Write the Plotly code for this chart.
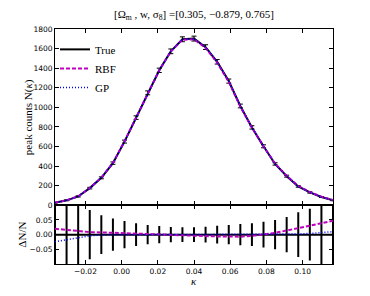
import plotly.graph_objects as go

# ---- data ----
kappa = [-0.0368, -0.0304, -0.0240, -0.0176, -0.0112, -0.0048, 0.0016, 0.0080,
         0.0144, 0.0208, 0.0272, 0.0336, 0.0400, 0.0464, 0.0528, 0.0592,
         0.0656, 0.0720, 0.0784, 0.0848, 0.0912, 0.0976, 0.1040, 0.1104, 0.1168]

n_true = [26, 50, 90, 175, 280, 430, 650, 895, 1148, 1378, 1572, 1695, 1702,
          1615, 1465, 1268, 1014, 795, 602, 422, 297, 192, 131, 84, 50]

n_true_err = [3, 4, 6, 8, 10, 12, 15, 18, 20, 22, 24, 25, 25, 24, 23, 21,
              19, 17, 15, 12, 10, 8, 7, 5, 4]

res_err = [0.20, 0.15, 0.12, 0.084, 0.066, 0.055, 0.046, 0.039, 0.033, 0.029,
           0.026, 0.025, 0.025, 0.027, 0.030, 0.033, 0.036, 0.039, 0.044,
           0.050, 0.060, 0.076, 0.088, 0.12, 0.20]

res_rbf = [0.020, 0.0155, 0.011, 0.0086, 0.0076, 0.006, 0.004, 0.003, 0.002,
           0.000, -0.001, -0.003, -0.004, -0.005, -0.006, -0.006, -0.007,
           -0.004, 0.000, 0.006, 0.014, 0.022, 0.029, 0.038, 0.047]

res_gp = [-0.024, -0.017, -0.010, -0.004, -0.001, 0.0, 0.0, 0.0, 0.0, 0.0,
          0.0, 0.0, 0.0, 0.0, 0.0, 0.0, 0.0, 0.0, 0.0, 0.0, 0.001, 0.002,
          0.004, 0.006, 0.010]

n_rbf = [n * (1 + r) for n, r in zip(n_true, res_rbf)]
n_gp = [n * (1 + r) for n, r in zip(n_true, res_gp)]
zeros = [0.0 for _ in kappa]

x_ticks = [-0.02, 0.00, 0.02, 0.04, 0.06, 0.08, 0.10]
x_tick_text = ["\u22120.02", "0.00", "0.02", "0.04", "0.06", "0.08", "0.10"]
y_ticks = [0, 200, 400, 600, 800, 1000, 1200, 1400, 1600, 1800]
r_ticks = [-0.05, 0.0, 0.05]
r_tick_text = ["\u22120.05", "0.00", "0.05"]

title_text = "[\u03a9<sub>m</sub> , w, \u03c3<sub>8</sub>] =[0.305, \u22120.879, 0.765]"

BLACK = "#000000"
MAG = "#bf00bf"
BLUE = "#0000ff"
SERIF = "Liberation Serif"
SANS = "DejaVu Sans"

fig = go.Figure()

# top panel
fig.add_trace(go.Scatter(x=kappa, y=n_true, mode="lines", name="True",
                         line=dict(color=BLACK, width=2),
                         error_y=dict(type="data", array=n_true_err, visible=True,
                                      color=BLACK, thickness=1, width=2.5),
                         xaxis="x", yaxis="y"))
fig.add_trace(go.Scatter(x=kappa, y=n_rbf, mode="lines", name="RBF",
                         line=dict(color=MAG, width=2, dash="4px,2px"),
                         xaxis="x", yaxis="y"))
fig.add_trace(go.Scatter(x=kappa, y=n_gp, mode="lines", name="GP",
                         line=dict(color=BLUE, width=1.5, dash="1px,2px"),
                         xaxis="x", yaxis="y"))

# bottom panel
fig.add_trace(go.Scatter(x=kappa, y=zeros, mode="lines", showlegend=False,
                         line=dict(color=BLACK, width=2),
                         error_y=dict(type="data", array=res_err, visible=True,
                                      color=BLACK, thickness=2, width=0),
                         xaxis="x2", yaxis="y2"))
fig.add_trace(go.Scatter(x=kappa, y=res_rbf, mode="lines", showlegend=False,
                         line=dict(color=MAG, width=2, dash="4px,2px"),
                         xaxis="x2", yaxis="y2"))
fig.add_trace(go.Scatter(x=kappa, y=res_gp, mode="lines", showlegend=False,
                         line=dict(color=BLUE, width=1.5, dash="1px,2px"),
                         xaxis="x2", yaxis="y2"))

axis_common = dict(showline=True, linecolor=BLACK, linewidth=1, mirror="ticks",
                   ticks="inside", ticklen=4, tickcolor=BLACK, tickwidth=1,
                   showgrid=False, zeroline=False,
                   tickfont=dict(family=SANS, size=7.5, color=BLACK))

xr = [kappa[0], kappa[-1]]

# the page body adds an 8px margin; the figure is sized so the plot area
# lands at the same window pixels as the reference
fig.update_layout(
    width=354, height=280,
    margin=dict(l=47, r=29, t=21, b=22),
    paper_bgcolor="white", plot_bgcolor="white",
    showlegend=True,
    legend=dict(x=0.0, y=0.975, xanchor="left", yanchor="top",
                bgcolor="rgba(0,0,0,0)", borderwidth=0,
                font=dict(family=SERIF, size=11, color=BLACK),
                tracegroupgap=0),
    xaxis=dict(domain=[0, 1], anchor="y", range=xr, tickvals=x_ticks,
               showticklabels=False, **axis_common),
    yaxis=dict(domain=[0.25, 1], anchor="x", range=[0, 1800], tickvals=y_ticks,
               **axis_common),
    xaxis2=dict(domain=[0, 1], anchor="y2", range=xr, tickvals=x_ticks,
                ticktext=x_tick_text, matches="x", **axis_common),
    yaxis2=dict(domain=[0, 0.25], anchor="x2", range=[-0.1, 0.1],
                tickvals=r_ticks, ticktext=r_tick_text, **axis_common),
    annotations=[
        dict(text=title_text, xref="paper", yref="paper", x=0.5, y=1.0,
             xanchor="center", yanchor="bottom", yshift=5, showarrow=False,
             font=dict(family=SERIF, size=11, color=BLACK)),
        dict(text="peak counts N(<i>\u03ba</i>)", xref="paper", yref="paper",
             x=0, y=0.625, xshift=-27, xanchor="center", yanchor="middle",
             textangle=-90, showarrow=False,
             font=dict(family=SERIF, size=11, color=BLACK)),
        dict(text="\u0394N/N", xref="paper", yref="paper",
             x=0, y=0.125, xshift=-33, xanchor="center", yanchor="middle",
             textangle=-90, showarrow=False,
             font=dict(family=SERIF, size=11, color=BLACK)),
        dict(text="<i>\u03ba</i>", xref="paper", yref="paper",
             x=0.5, y=0, yshift=-17, xanchor="center", yanchor="middle",
             showarrow=False, font=dict(family=SERIF, size=11, color=BLACK)),
    ],
)

fig.write_html("out.html")
